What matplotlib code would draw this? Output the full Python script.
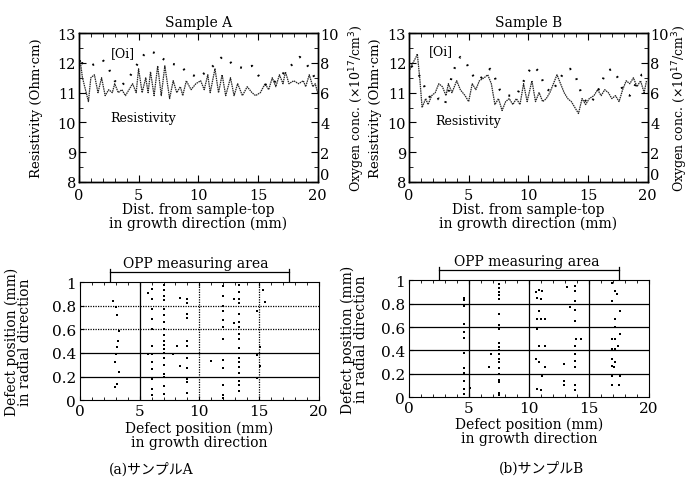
import numpy as np
import matplotlib
matplotlib.use("Agg")
import matplotlib.pyplot as plt
from matplotlib.ticker import MultipleLocator

plt.rcParams['font.family'] = ['DejaVu Serif', 'Noto Sans CJK JP']
plt.rcParams['font.size'] = 10

# ---- resistivity / oxygen profiles (mm, Ohm-cm, 1e17/cm3) ----
resA_x = [0.0, 0.1, 0.3, 0.8, 1.0, 1.3, 1.6, 1.9, 2.2, 2.5, 2.8, 3.0, 3.3, 3.6, 3.9, 4.2,
          4.5, 4.8, 5.0, 5.3, 5.6, 5.8, 6.0, 6.3, 6.6, 6.9, 7.2, 7.6, 7.9, 8.2, 8.5,
          8.7, 9.0, 9.4, 9.8, 10.2, 10.5, 10.8, 11.0, 11.4, 11.7, 12.0, 12.3, 12.7,
          13.0, 13.3, 13.7, 14.1, 14.5, 14.8, 15.2, 15.6, 15.9, 16.2, 16.5, 16.8,
          17.1, 17.3, 17.6, 18.0, 18.4, 18.8, 19.0, 19.3, 19.6, 19.8, 20.0]
resA_y = [11.9, 12.1, 11.5, 10.7, 11.5, 11.6, 11.0, 11.5, 10.9, 11.1, 11.0, 11.3, 11.0,
          11.1, 10.9, 11.1, 11.3, 11.0, 11.8, 11.0, 11.5, 11.0, 11.7, 10.9, 11.9, 10.9,
          11.9, 10.8, 11.4, 11.0, 11.2, 10.9, 11.4, 11.1, 11.3, 11.4, 11.1, 11.6, 11.0,
          11.8, 11.0, 11.6, 10.9, 11.5, 10.9, 11.3, 10.9, 11.2, 11.0, 10.9, 11.0, 11.3,
          11.1, 11.5, 11.2, 11.6, 11.3, 11.7, 11.3, 11.4, 11.3, 11.4, 11.2, 11.6, 11.2,
          11.3, 11.0]
oxA_x = [0.2, 1.0, 2.0, 2.5, 3.0, 3.5, 4.2, 4.8, 5.5, 6.0, 6.5, 7.5, 8.5, 9.0, 10.0,
         11.0, 12.0, 12.5, 13.0, 14.0, 14.5, 15.0, 15.5, 16.0, 16.5, 17.0, 18.0, 18.5,
         19.0, 19.5, 20.0]
oxA_y = [8.0, 7.8, 8.2, 7.6, 6.8, 6.4, 7.0, 7.8, 8.6, 8.8, 8.6, 8.0, 7.8, 7.4, 7.0,
         7.6, 8.4, 8.2, 7.8, 7.6, 7.8, 7.2, 6.6, 6.4, 6.8, 7.2, 8.0, 8.4, 8.0, 7.4, 6.6]

resB_x = [0.0, 0.2, 0.6, 0.7, 0.9, 1.1, 1.4, 1.6, 1.9, 2.2, 2.5, 2.8, 3.1, 3.3, 3.6,
          4.0, 4.3, 4.7, 5.0, 5.3, 5.6, 5.9, 6.3, 6.6, 6.9, 7.2, 7.5, 7.8, 8.1, 8.4,
          8.7, 9.0, 9.3, 9.6, 9.9, 10.3, 10.6, 10.9, 11.2, 11.5, 11.8, 12.1, 12.4,
          12.7, 13.0, 13.3, 13.6, 13.9, 14.2, 14.5, 14.8, 15.1, 15.5, 15.8, 16.1,
          16.4, 16.7, 17.0, 17.3, 17.6, 17.9, 18.2, 18.5, 18.8, 19.1, 19.4, 19.7, 19.9]
resB_y = [11.7, 11.9, 12.2, 12.3, 11.5, 10.5, 10.8, 10.6, 10.9, 11.0, 11.3, 11.2, 10.9,
          11.3, 11.0, 11.4, 11.1, 10.9, 10.7, 11.3, 11.1, 11.4, 11.5, 11.6, 11.3, 10.6,
          10.8, 10.4, 10.7, 10.8, 10.6, 10.8, 10.6, 11.3, 10.7, 11.4, 10.7, 11.0, 10.7,
          10.8, 11.0, 11.3, 11.6, 11.3, 11.0, 10.8, 10.7, 10.5, 10.3, 10.8, 10.6, 10.8,
          10.9, 11.1, 10.9, 11.1, 11.0, 10.8, 10.9, 10.7, 11.1, 11.4, 11.3, 11.5, 11.2,
          11.4, 11.0, 11.4]
oxB_x = [0.2, 1.0, 1.5, 2.0, 2.5, 3.0, 3.3, 3.6, 4.0, 4.3, 4.8, 5.3, 5.8, 6.3, 6.8,
         7.2, 7.6, 8.2, 9.0, 9.5, 10.0, 10.4, 10.9, 11.4, 11.9, 12.4, 13.0, 13.5, 14.0,
         14.5, 15.0, 15.5, 16.0, 16.5, 17.0, 17.5, 18.0, 18.5, 19.0, 19.5, 20.0]
oxB_y = [7.8, 7.0, 6.0, 5.4, 5.6, 5.2, 6.0, 7.2, 8.0, 8.4, 8.0, 7.2, 6.8, 7.2, 7.6,
         7.0, 6.2, 5.8, 5.8, 6.6, 7.4, 7.8, 7.4, 6.4, 6.0, 6.6, 7.4, 7.6, 7.0, 5.8,
         5.2, 5.6, 6.4, 7.4, 7.6, 7.0, 6.0, 5.8, 6.6, 7.2, 7.2]
ox_ticks = [0, 2, 4, 6, 8, 10]

# ---- OPP defect positions (growth mm, radial mm) ----
defA_x = [2.8, 3.0, 3.1, 3.3, 3.2, 3.1, 3.0, 2.9, 3.3, 3.1, 2.9,
          6.0, 6.0, 6.0, 6.0, 6.0, 6.0, 6.0, 6.0, 6.0, 6.0, 6.0, 6.0, 5.7, 5.7,
          7.0, 7.0, 7.0, 7.0, 7.0, 7.0, 7.0, 7.0, 7.0, 7.0, 7.0, 7.0, 7.0, 7.0, 7.0,
          7.0, 7.0, 7.0, 7.0,
          7.8, 8.1, 8.4, 8.4,
          9.0, 9.0, 9.0, 9.0, 9.0, 9.0, 9.0, 9.0, 9.0, 9.0, 9.0,
          12.0, 12.0, 12.0, 12.0, 12.0, 12.0, 12.0, 12.0, 12.0, 12.0, 12.0, 12.0, 11.0,
          13.3, 13.3, 13.3, 13.3, 13.3, 13.3, 13.3, 13.3, 13.3, 13.3, 13.3, 13.3, 13.3,
          13.3, 13.3, 13.3, 13.3, 12.9, 12.9,
          15.3, 15.5, 14.8, 15.1, 14.8, 15.1, 14.8]
defA_y = [0.84, 0.79, 0.72, 0.59, 0.50, 0.45, 0.39, 0.32, 0.24, 0.14, 0.11,
          0.94, 0.86, 0.77, 0.69, 0.60, 0.46, 0.39, 0.32, 0.26, 0.18, 0.09, 0.04, 0.91, 0.39,
          0.98, 0.93, 0.88, 0.85, 0.77, 0.72, 0.66, 0.60, 0.55, 0.50, 0.47, 0.43, 0.40,
          0.36, 0.30, 0.22, 0.20, 0.12, 0.05,
          0.39, 0.46, 0.87, 0.29,
          0.86, 0.82, 0.73, 0.70, 0.50, 0.46, 0.36, 0.27, 0.18, 0.15, 0.06,
          0.97, 0.88, 0.80, 0.76, 0.68, 0.62, 0.52, 0.34, 0.27, 0.13, 0.04, 0.02, 0.33,
          0.98, 0.92, 0.86, 0.82, 0.73, 0.66, 0.62, 0.56, 0.52, 0.44, 0.36, 0.32, 0.28,
          0.23, 0.16, 0.13, 0.08, 0.86, 0.65,
          0.93, 0.83, 0.76, 0.45, 0.38, 0.29, 0.19]
defB_x = [4.6, 4.6, 4.6, 4.6, 4.6, 4.6, 4.6, 4.6, 4.6, 4.6, 4.6, 4.6, 5.1,
          7.5, 7.5, 7.5, 7.5, 7.5, 7.5, 7.5, 7.5, 7.5, 7.5, 7.5, 7.5, 7.5, 7.5, 7.5,
          7.5, 7.5, 7.5, 7.5, 7.5, 6.8, 6.7,
          10.6, 10.8, 11.1, 10.7, 11.0, 10.8, 11.0, 10.7, 11.3, 10.7, 10.8, 11.3, 10.6,
          10.8, 11.3, 11.1, 10.7, 11.0,
          13.2, 13.8, 13.8, 13.8, 13.4, 13.8, 13.8, 13.9, 14.3, 13.8, 13.8, 13.8, 13.8,
          12.9, 12.9, 12.9, 13.8, 13.8,
          16.9, 17.2, 17.3, 16.9, 17.6, 17.2, 17.2, 17.6, 16.9, 17.2, 17.4, 16.9, 17.2,
          16.9, 17.2, 16.9, 17.1, 16.9, 17.6, 16.9, 17.5]
defB_y = [0.85, 0.83, 0.78, 0.63, 0.56, 0.51, 0.38, 0.25, 0.21, 0.14, 0.07, 0.03, 0.08,
          0.97, 0.93, 0.90, 0.87, 0.84, 0.71, 0.62, 0.58, 0.46, 0.43, 0.40, 0.37, 0.33,
          0.30, 0.25, 0.20, 0.15, 0.13, 0.04, 0.02, 0.37, 0.26,
          0.90, 0.92, 0.91, 0.85, 0.84, 0.74, 0.67, 0.67, 0.67, 0.58, 0.44, 0.44, 0.33,
          0.30, 0.26, 0.18, 0.07, 0.06,
          0.94, 0.95, 0.91, 0.82, 0.77, 0.75, 0.65, 0.50, 0.50, 0.44, 0.37, 0.31, 0.26,
          0.28, 0.14, 0.10, 0.10, 0.06,
          0.98, 0.91, 0.88, 0.82, 0.74, 0.67, 0.60, 0.54, 0.50, 0.50, 0.44, 0.41, 0.41,
          0.33, 0.30, 0.27, 0.26, 0.18, 0.18, 0.10, 0.10]

fig = plt.figure(figsize=(6.92, 4.85), dpi=100)


def profile(rect, title, rx, ry, ox, oy, oi_pos, res_pos, ylab_x, rlab_x):
    ax = fig.add_axes(rect)
    ax.plot(rx, ry, color='#222222', lw=0.9, ls=(0, (1.2, 0.6)))
    ax.set_xlim(0, 20)
    ax.set_ylim(8, 13)
    ax.xaxis.set_major_locator(MultipleLocator(5))
    ax.xaxis.set_minor_locator(MultipleLocator(1))
    ax.yaxis.set_major_locator(MultipleLocator(1))
    ax.yaxis.set_minor_locator(MultipleLocator(0.5))
    ax.tick_params(which='both', direction='in', top=True, labelsize=10.5, pad=2)
    ax.tick_params(axis='x', pad=4)
    ax.tick_params(which='major', length=5)
    ax.tick_params(which='minor', length=3)
    ax.set_title(title, fontsize=10, pad=5)
    ax.set_ylabel('Resistivity (Ohm·cm)', fontsize=9.5)
    ax.yaxis.set_label_coords(ylab_x, 0.5)
    ax.set_xlabel('Dist. from sample-top\nin growth direction (mm)', fontsize=10,
                  linespacing=1.0)
    ax.xaxis.set_label_coords(0.5, -0.135)
    ax.text(oi_pos[0], oi_pos[1], '[Oi]', fontsize=9, ha='center', va='center')
    ax.text(res_pos[0], res_pos[1], 'Resistivity', fontsize=9, ha='left', va='center')

    ax2 = ax.twinx()
    ax2.plot(ox, oy, color='black', lw=1.6, ls=(0, (0.8, 4.5)))
    ax2.set_ylim(0, 10)
    ax2.set_yticks(ox_ticks)
    labs = ax2.set_yticklabels([str(t) for t in ox_ticks])
    labs[0].set_verticalalignment('bottom')   # lift "0" off the x "20"
    ax2.yaxis.set_minor_locator(MultipleLocator(1))
    ax2.tick_params(which='both', direction='in', labelsize=10.5, pad=2)
    ax2.tick_params(which='major', length=5)
    ax2.tick_params(which='minor', length=3)
    ax2.set_ylabel(r'Oxygen conc. ($\times$10$^{17}$/cm$^{3}$)', fontsize=9)
    ax2.yaxis.set_label_coords(rlab_x, 0.5)
    for a in (ax, ax2):
        for s in a.spines.values():
            s.set_linewidth(1.0)


def defects(rect, dx, dy, dotted, text_x, ylab_x):
    ax = fig.add_axes(rect)
    ax.scatter(dx, dy, s=3, marker='s', color='black', linewidths=0)
    ax.set_xlim(0, 20)
    ax.set_ylim(0, 1)
    ax.set_xticks([0, 5, 10, 15, 20])
    ax.xaxis.set_minor_locator(MultipleLocator(1))
    ax.set_yticks([0, 0.2, 0.4, 0.6, 0.8, 1])
    ax.set_yticklabels(['0', '0.2', '0.4', '0.6', '0.8', '1'])
    ax.tick_params(which='both', direction='in', top=True, labelsize=11, pad=3)
    ax.tick_params(which='major', length=3)
    ax.tick_params(which='minor', length=2.5)
    for v in [0.2, 0.4, 0.6, 0.8]:
        ls = (0, (1, 1)) if v in dotted else '-'
        ax.axhline(v, color='black', lw=0.9, ls=ls)
    for v in [5, 10, 15]:
        ls = (0, (1, 1)) if v in dotted else '-'
        ax.axvline(v, color='black', lw=0.9, ls=ls)
    ax.set_xlabel('Defect position (mm)\nin growth direction', fontsize=10,
                  linespacing=1.0)
    ax.xaxis.set_label_coords(0.5, -0.17)
    ax.set_ylabel('Defect position (mm)\nin radial direction', fontsize=10,
                  linespacing=0.95)
    ax.yaxis.set_label_coords(ylab_x, 0.5)
    # OPP measuring area bracket
    ax.plot([2.5, 17.5], [1.085, 1.085], color='black', lw=0.9, clip_on=False)
    for xe in (2.5, 17.5):
        ax.plot([xe, xe], [1.01, 1.11], color='black', lw=0.9, clip_on=False)
    ax.text(text_x, 1.165, 'OPP measuring area', fontsize=10, ha='center', va='center')
    return ax


profile([0.114, 0.6227, 0.345, 0.307], 'Sample A', resA_x, resA_y, oxA_x, oxA_y,
        (3.7, 12.35), (2.6, 10.18), -0.15, 1.125)
profile([0.591, 0.6227, 0.345, 0.307], 'Sample B', resB_x, resB_y, oxB_x, oxB_y,
        (2.7, 12.4), (2.2, 10.05), -0.115, 1.095)

defects([0.1156, 0.173, 0.345, 0.243], defA_x, defA_y, [0.6, 0.8, 10, 15], 9.7, -0.20)
defects([0.591, 0.179, 0.347, 0.241], defB_x, defB_y, [], 9.8, -0.17)

fig.text(0.218, 0.031, '(a)サンプルA', fontsize=10, ha='center', va='center')
fig.text(0.783, 0.035, '(b)サンプルB', fontsize=10, ha='center', va='center')

fig.savefig('out.png', dpi=100)
